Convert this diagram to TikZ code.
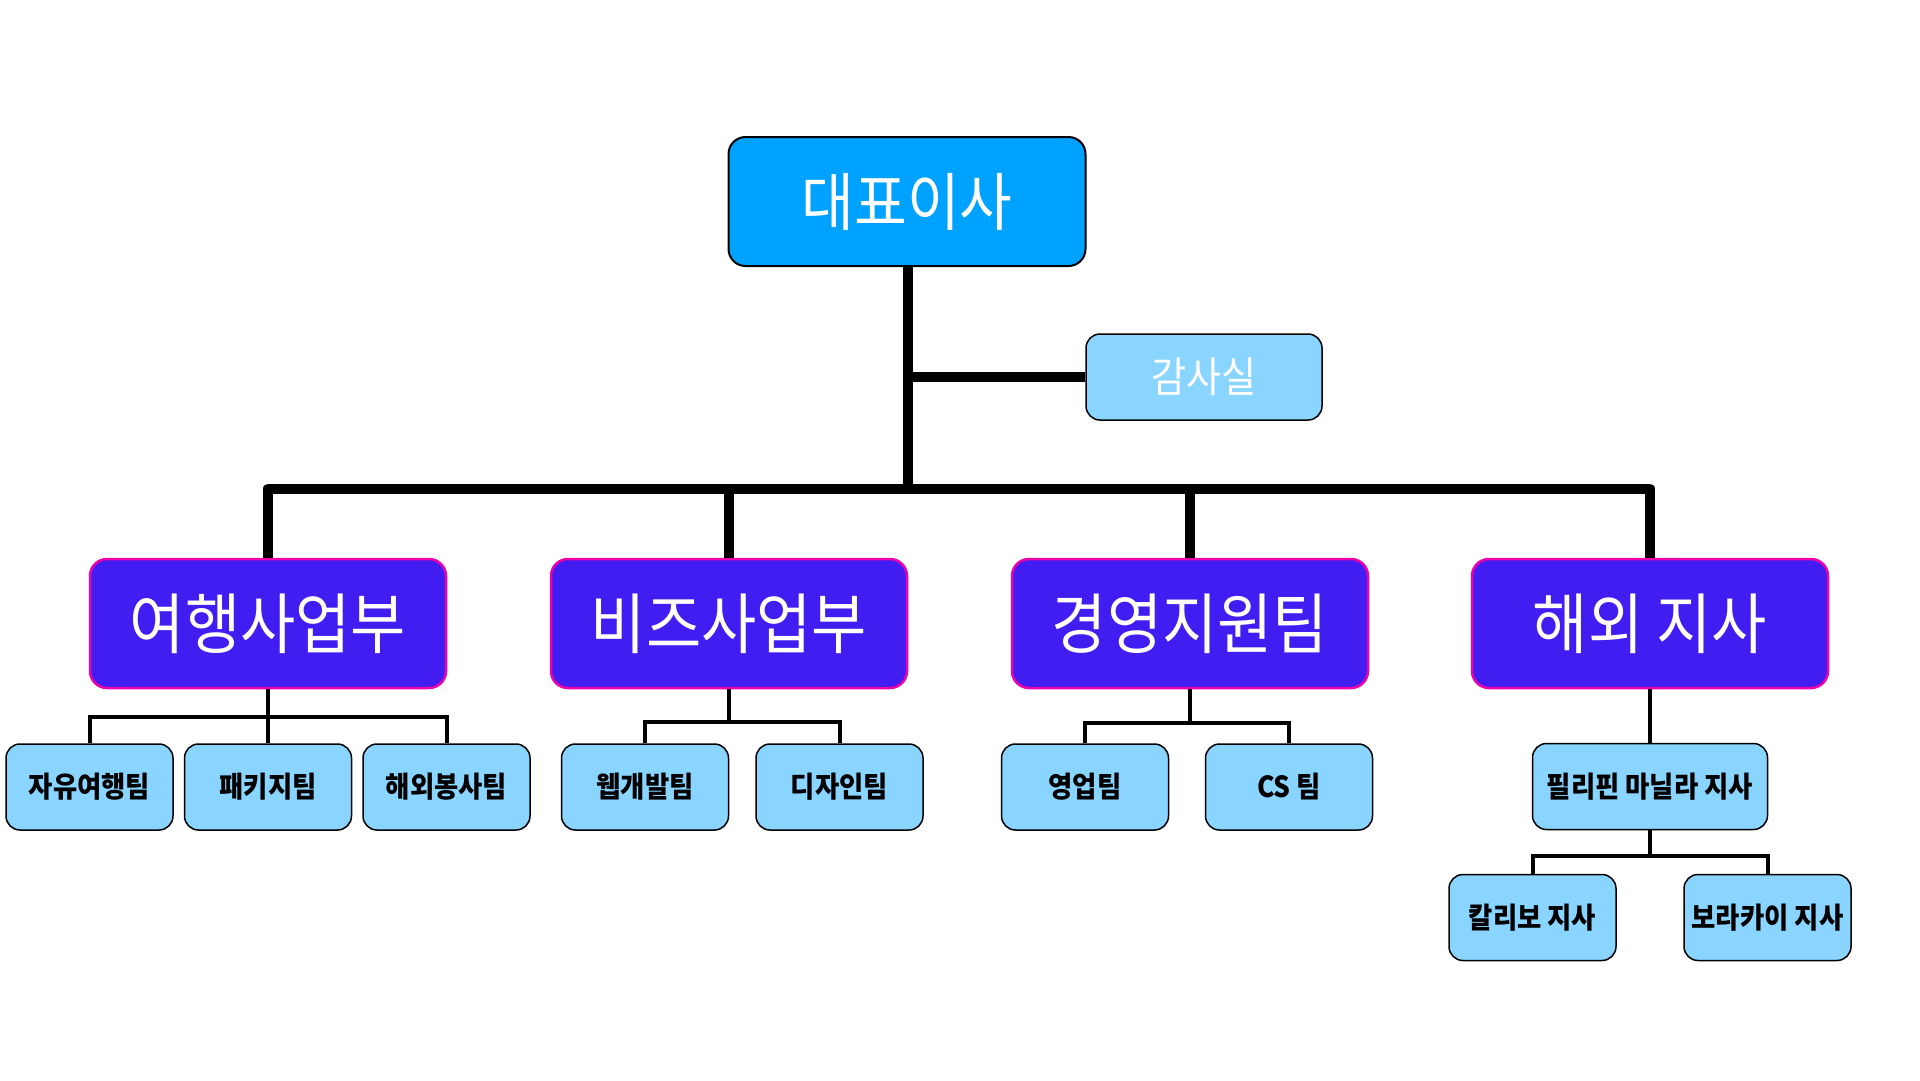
\documentclass[tikz,border=0pt]{standalone}
\usepackage{fontspec}
\newfontfamily\kr[FakeStretch=0.91]{Noto Sans CJK KR}
\definecolor{ceoblue}{RGB}{0,162,255}
\definecolor{lightblue}{RGB}{137,213,255}
\definecolor{deptblue}{RGB}{66,29,241}
\definecolor{deptborder}{RGB}{240,0,170}
\tikzset{
  ceobox/.style={draw=black, line width=2pt, fill=ceoblue, rounded corners=17pt,
    minimum width=357pt, minimum height=129pt, inner sep=0pt, text=white,
    font=\kr\fontsize{63}{66}\selectfont},
  auditbox/.style={draw=black, line width=1.5pt, fill=lightblue, rounded corners=14pt,
    minimum width=236pt, minimum height=86pt, inner sep=0pt, text=white,
    font=\kr\fontsize{42}{45}\selectfont},
  deptbox/.style={draw=deptborder, line width=2.5pt, fill=deptblue, rounded corners=17pt,
    minimum width=356pt, minimum height=129pt, inner sep=0pt, text=white,
    font=\kr\fontsize{66}{70}\selectfont},
  teambox/.style={draw=black, line width=1.5pt, fill=lightblue, rounded corners=14pt,
    minimum width=167pt, minimum height=86pt, inner sep=0pt, text=black,
    font=\kr\bfseries\fontsize{29}{32}\selectfont},
  bigline/.style={line width=10pt, line join=round},
  smallline/.style={line width=4pt, line join=miter},
}
\begin{document}
\begin{tikzpicture}[x=1pt,y=-1pt]
\useasboundingbox (0,0) rectangle (1920,1080);
% nodes
\node[ceobox] (ceo) at (907,201.5) {대표이사};
\node[auditbox] (audit) at (1204,377) {감사실};
\node[deptbox] (d1) at (268,623.5) {여행사업부};
\node[deptbox] (d2) at (729,623.5) {비즈사업부};
\node[deptbox] (d3) at (1190,623.5) {경영지원팀};
\node[deptbox] (d4) at (1650,623.5) {해외 지사};
\node[teambox] (t1) at (89.5,787) {자유여행팀};
\node[teambox] (t2) at (268,787) {패키지팀};
\node[teambox] (t3) at (446.5,787) {해외봉사팀};
\node[teambox] (t4) at (645,787) {웹개발팀};
\node[teambox] (t5) at (839.5,787) {디자인팀};
\node[teambox] (t6) at (1085,787) {영업팀};
\node[teambox] (t7) at (1289,787) {CS 팀};
\node[teambox, minimum width=235pt] (ph) at (1650,786.5) {필리핀 마닐라 지사};
\node[teambox] (k1) at (1532.5,917.5) {칼리보 지사};
\node[teambox] (k2) at (1767.5,917.5) {보라카이 지사};
% coordinates
\coordinate (bus) at (908,488.5);
\coordinate (aud) at (908,377);
\coordinate (s1) at (268,716.5);
\coordinate (s2) at (729,722);
\coordinate (s3) at (1190,723);
\coordinate (s4) at (1650,856);
% main connectors
\draw[bigline] (ceo.south -| bus) -- (bus);
\draw[bigline] (aud) -- (audit.west);
\draw[bigline] (d1.north) |- (bus) -| (d4.north);
\draw[bigline] (d2.north) -- (d2.north |- bus);
\draw[bigline] (d3.north) -- (d3.north |- bus);
% sub connectors
\draw[smallline] (d1.south) -- (s1);
\draw[smallline] (t1.north) |- (s1) -| (t3.north);
\draw[smallline] (t2.north) -- (s1);
\draw[smallline] (d2.south) -- (s2);
\draw[smallline] (t4.north) |- (s2) -| (t5.north);
\draw[smallline] (d3.south) -- (s3);
\draw[smallline] (t6.north) |- (s3) -| (t7.north);
\draw[smallline] (d4.south) -- (ph.north);
\draw[smallline] (ph.south) -- (s4);
\draw[smallline] (k1.north) |- (s4) -| (k2.north);
\end{tikzpicture}
\end{document}
